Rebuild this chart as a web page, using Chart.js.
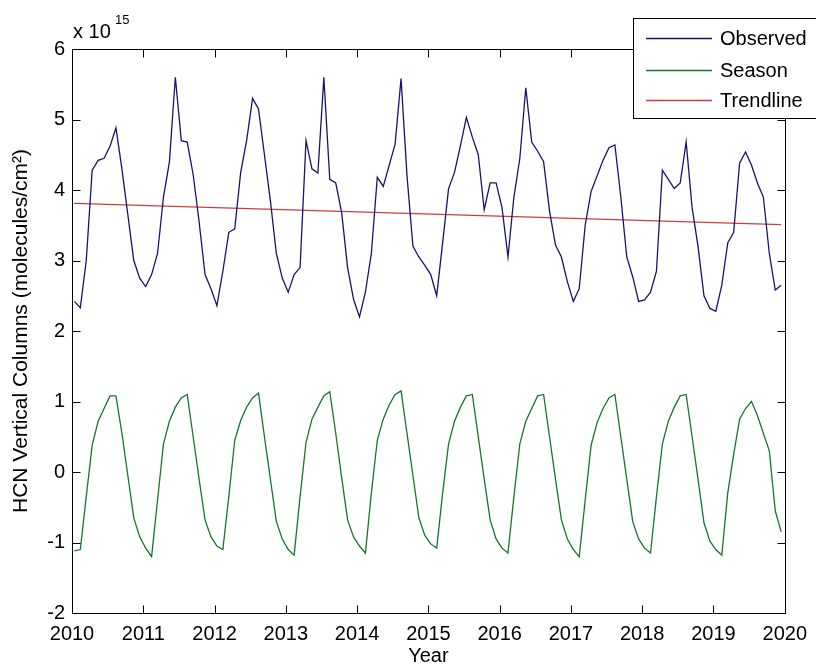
<!DOCTYPE html>
<html>
<head>
<meta charset="UTF-8">
<title>HCN Vertical Columns</title>
<script src="https://cdn.jsdelivr.net/npm/chart.js@4.4.1/dist/chart.umd.min.js"></script>
<style>
  body { margin: 0; background: #fff; }
</style>
</head>
<body>
<canvas id="hcnChart" width="816" height="668"></canvas>
<script>
  // monthly values, units of 1e15 molecules/cm2, Jan 2010 .. Dec 2019
  const observed = [
    2.42, 2.33, 3.00, 4.28, 4.42, 4.45, 4.62, 4.88, 4.30, 3.65, 3.00, 2.75, // 2010
    2.63, 2.80, 3.10, 3.90, 4.40, 5.60, 4.70, 4.68, 4.22, 3.55, 2.80, 2.60, // 2011
    2.36, 2.85, 3.40, 3.45, 4.25, 4.70, 5.30, 5.15, 4.50, 3.85, 3.10, 2.75, // 2012
    2.55, 2.80, 2.90, 4.70, 4.30, 4.24, 5.60, 4.15, 4.10, 3.68, 2.90, 2.45, // 2013
    2.20, 2.55, 3.10, 4.18, 4.05, 4.35, 4.65, 5.58, 4.20, 3.20, 3.05, 2.93, // 2014
    2.80, 2.50, 3.25, 4.02, 4.25, 4.63, 5.03, 4.75, 4.50, 3.72, 4.10, 4.10, // 2015
    3.75, 3.05, 3.90, 4.45, 5.45, 4.68, 4.55, 4.40, 3.70, 3.22, 3.05, 2.70, // 2016
    2.42, 2.60, 3.50, 3.98, 4.20, 4.42, 4.60, 4.64, 3.90, 3.05, 2.77, 2.42, // 2017
    2.44, 2.55, 2.85, 4.28, 4.15, 4.02, 4.10, 4.68, 3.75, 3.20, 2.50, 2.32, // 2018
    2.28, 2.65, 3.25, 3.40, 4.38, 4.54, 4.35, 4.10, 3.90, 3.10, 2.58, 2.65  // 2019
  ];
  const season = [
    -1.12, -1.10, -0.35, 0.38, 0.72, 0.90, 1.08, 1.08, 0.55, -0.05, -0.65, -0.92, // 2010
    -1.08, -1.20, -0.40, 0.40, 0.72, 0.92, 1.05, 1.10, 0.50, -0.10, -0.68, -0.92, // 2011
    -1.05, -1.10, -0.35, 0.45, 0.73, 0.92, 1.05, 1.12, 0.50, -0.10, -0.70, -0.95, // 2012
    -1.10, -1.18, -0.35, 0.42, 0.75, 0.92, 1.08, 1.14, 0.55, -0.08, -0.68, -0.92, // 2013
    -1.05, -1.15, -0.30, 0.45, 0.75, 0.95, 1.10, 1.15, 0.55, -0.05, -0.65, -0.90, // 2014
    -1.02, -1.08, -0.30, 0.40, 0.72, 0.92, 1.08, 1.10, 0.50, -0.10, -0.68, -0.95, // 2015
    -1.08, -1.15, -0.35, 0.40, 0.72, 0.90, 1.08, 1.10, 0.50, -0.10, -0.68, -0.95, // 2016
    -1.10, -1.20, -0.40, 0.38, 0.70, 0.90, 1.05, 1.10, 0.50, -0.10, -0.70, -0.95, // 2017
    -1.08, -1.15, -0.35, 0.40, 0.72, 0.92, 1.08, 1.10, 0.50, -0.10, -0.72, -0.98, // 2018
    -1.10, -1.18, -0.30, 0.25, 0.75, 0.90, 1.00, 0.80, 0.55, 0.30, -0.55, -0.85  // 2019
  ];
  // trend line end points
  const trendYears  = [2010.03, 2019.95];
  const trendValues = [3.81, 3.51];

  const yearTicks  = [2010, 2011, 2012, 2013, 2014, 2015, 2016, 2017, 2018, 2019, 2020];
  const valueTicks = [-2, -1, 0, 1, 2, 3, 4, 5, 6];

  // x position of each monthly sample (decimal year)
  const months = observed.map((_, i) => 2010 + (i + 0.4) / 12);

  const colors = { observed: '#14146e', season: '#16762a', trend: '#d23c3c' };
  const FONT = '"Liberation Sans", Arial, sans-serif';

  const pts = (xs, ys) => ys.map((v, i) => ({ x: xs[i], y: v }));

  // MATLAB-style box, inward ticks, exponent and legend
  const matlabFrame = {
    id: 'matlabFrame',
    afterDraw(chart) {
      const { ctx, chartArea: a, scales: { x, y } } = chart;
      const L = Math.round(a.left) + 0.5, R = Math.round(a.right) + 0.5;
      const T = Math.round(a.top) + 0.5, B = Math.round(a.bottom) + 0.5;
      ctx.save();
      ctx.strokeStyle = '#000';
      ctx.lineWidth = 1;
      ctx.strokeRect(L, T, R - L, B - T);
      ctx.beginPath();
      yearTicks.forEach(v => {
        const px = Math.round(x.getPixelForValue(v)) + 0.5;
        ctx.moveTo(px, B); ctx.lineTo(px, B - 8);
        ctx.moveTo(px, T); ctx.lineTo(px, T + 8);
      });
      valueTicks.forEach(v => {
        const py = Math.round(y.getPixelForValue(v)) + 0.5;
        ctx.moveTo(L, py); ctx.lineTo(L + 8, py);
        ctx.moveTo(R, py); ctx.lineTo(R - 8, py);
      });
      ctx.stroke();

      // axis exponent
      ctx.fillStyle = '#000';
      ctx.textBaseline = 'alphabetic';
      ctx.font = '20px ' + FONT;
      ctx.fillText('x 10', 73, 38);
      ctx.font = '13px ' + FONT;
      ctx.fillText('15', 115, 24);

      // legend box
      ctx.fillStyle = '#fff';
      ctx.fillRect(633.5, 18.5, 183, 100);
      ctx.strokeRect(633.5, 18.5, 183, 100);
      const items = [
        ['Observed', colors.observed, 38],
        ['Season', colors.season, 70],
        ['Trendline', colors.trend, 100]
      ];
      ctx.font = '20px ' + FONT;
      ctx.textBaseline = 'middle';
      items.forEach(([label, col, ly]) => {
        ctx.strokeStyle = col;
        ctx.lineWidth = 1.3;
        ctx.beginPath();
        ctx.moveTo(646, ly + 0.5);
        ctx.lineTo(712, ly + 0.5);
        ctx.stroke();
        ctx.fillStyle = '#000';
        ctx.fillText(label, 720, ly + 1);
      });
      ctx.restore();
    }
  };

  const tickFont = { family: FONT, size: 20 };

  new Chart(document.getElementById('hcnChart'), {
    type: 'line',
    data: {
      datasets: [
        { label: 'Observed', data: pts(months, observed), borderColor: colors.observed, borderWidth: 1.3 },
        { label: 'Season', data: pts(months, season), borderColor: colors.season, borderWidth: 1.3 },
        { label: 'Trendline', data: pts(trendYears, trendValues), borderColor: colors.trend, borderWidth: 1.3 }
      ]
    },
    options: {
      responsive: false,
      animation: false,
      parsing: false,
      elements: { point: { radius: 0 }, line: { tension: 0 } },
      layout: { padding: { top: 49, right: 24, bottom: 0, left: 0 } },
      plugins: { legend: { display: false }, tooltip: { enabled: false } },
      scales: {
        x: {
          type: 'linear', min: 2010, max: 2020,
          grid: { display: false, drawTicks: false },
          border: { display: false },
          afterBuildTicks: s => { s.ticks = yearTicks.map(v => ({ value: v })); },
          ticks: { autoSkip: false, maxRotation: 0, padding: 9, color: '#000', font: tickFont,
                   callback: v => String(v) },
          title: { display: true, text: 'Year', color: '#000', font: tickFont, padding: 0 },
          afterFit: s => { s.height = 55; }
        },
        y: {
          min: -2, max: 6,
          grid: { display: false, drawTicks: false },
          border: { display: false },
          afterBuildTicks: s => { s.ticks = valueTicks.map(v => ({ value: v })); },
          ticks: { padding: 7, color: '#000', font: tickFont, callback: v => String(v) },
          title: { display: true, text: 'HCN Vertical Columns (molecules/cm²)', color: '#000',
                   font: { family: FONT, size: 21 }, padding: { top: 9, bottom: 0 } },
          afterFit: s => { s.width = 72; }
        }
      }
    },
    plugins: [matlabFrame]
  });
</script>
</body>
</html>
